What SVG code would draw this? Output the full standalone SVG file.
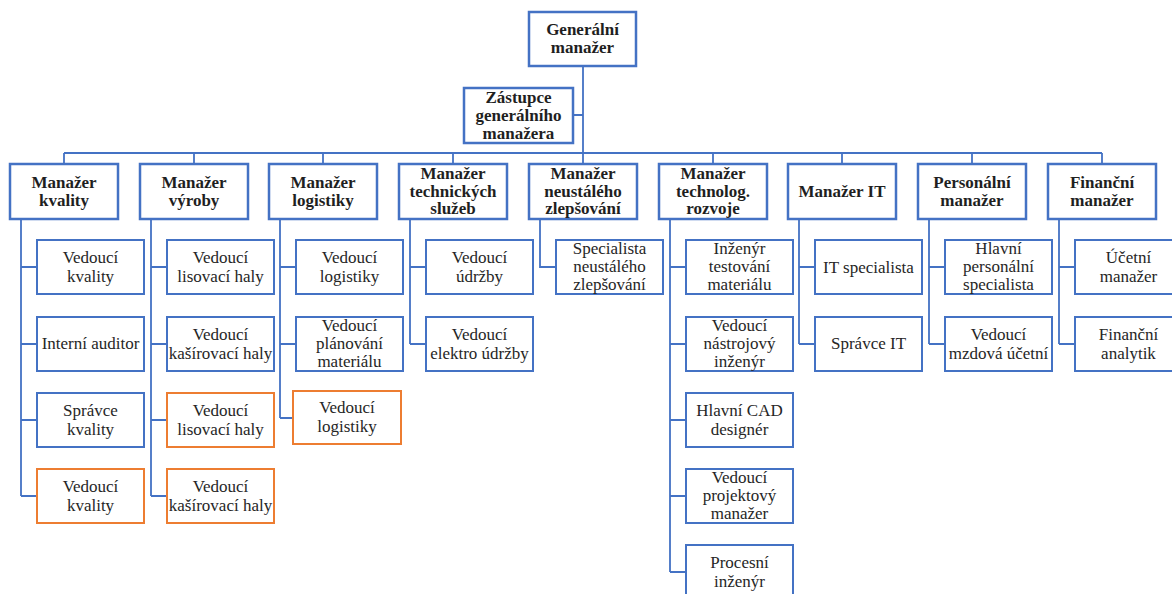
<svg xmlns="http://www.w3.org/2000/svg" width="1172" height="594" viewBox="0 0 1172 594">
<style>
.mg{fill:#fff;stroke:#4472C4;stroke-width:2.5}
.ch{fill:#fff;stroke:#4472C4;stroke-width:2}
.or{fill:#fff;stroke:#ED7D31;stroke-width:2}
.tb{font-family:"Liberation Serif","Times New Roman",serif;font-size:17px;font-weight:bold;fill:#1f1f1f;text-anchor:middle}
.t{font-family:"Liberation Serif","Times New Roman",serif;font-size:17px;fill:#262626;text-anchor:middle}
.ln{fill:none;stroke:#4472C4;stroke-width:1.8}
</style>
<rect width="1172" height="594" fill="#fff"/>
<g id="connectors" class="ln">
<path d="M583 66V153M573 115H583M64 153H1102"/>
<path d="M64 153V164M194 153V164M323 153V164M453 153V164M583 153V164M713 153V164M842 153V164M972 153V164M1102 153V164"/>
<path d="M21 219V496M21 267H37M21 344H37M21 420H37M21 496H37"/>
<path d="M151 219V496M151 267H167M151 344H167M151 420H167M151 496H167"/>
<path d="M280 219V418M280 267H296M280 344H296M280 418H293"/>
<path d="M410 219V344M410 267H426M410 344H426"/>
<path d="M540 219V267H556"/>
<path d="M670 219V572M670 267H686M670 344H686M670 420H686M670 496H686M670 572H686"/>
<path d="M799 219V344M799 267H815M799 344H815"/>
<path d="M929 219V344M929 267H945M929 344H945"/>
<path d="M1059 219V344M1059 267H1075M1059 344H1075"/>
</g>
<g id="n-gm"><rect class="mg" x="529" y="12" width="107" height="54"/><text class="tb" x="582.5" y="35">Generální</text><text class="tb" x="582.5" y="53">manažer</text></g>
<g id="n-zgm"><rect class="mg" x="464" y="88" width="109" height="55"/><text class="tb" x="518.5" y="103">Zástupce</text><text class="tb" x="518.5" y="121">generálního</text><text class="tb" x="518.5" y="139">manažera</text></g>
<g id="m1"><rect class="mg" x="10" y="164" width="108" height="55"/><text class="tb" x="64" y="188">Manažer</text><text class="tb" x="64" y="206">kvality</text></g>
<g id="m2"><rect class="mg" x="140" y="164" width="108" height="55"/><text class="tb" x="194" y="188">Manažer</text><text class="tb" x="194" y="206">výroby</text></g>
<g id="m3"><rect class="mg" x="269" y="164" width="108" height="55"/><text class="tb" x="323" y="188">Manažer</text><text class="tb" x="323" y="206">logistiky</text></g>
<g id="m4"><rect class="mg" x="399" y="164" width="108" height="55"/><text class="tb" x="453" y="179">Manažer</text><text class="tb" x="453" y="197">technických</text><text class="tb" x="453" y="214">služeb</text></g>
<g id="m5"><rect class="mg" x="529" y="164" width="108" height="55"/><text class="tb" x="583" y="179">Manažer</text><text class="tb" x="583" y="197">neustálého</text><text class="tb" x="583" y="214">zlepšování</text></g>
<g id="m6"><rect class="mg" x="659" y="164" width="108" height="55"/><text class="tb" x="713" y="179">Manažer</text><text class="tb" x="713" y="197">technolog.</text><text class="tb" x="713" y="214">rozvoje</text></g>
<g id="m7"><rect class="mg" x="788" y="164" width="108" height="55"/><text class="tb" x="842" y="197">Manažer IT</text></g>
<g id="m8"><rect class="mg" x="918" y="164" width="108" height="55"/><text class="tb" x="972" y="188">Personální</text><text class="tb" x="972" y="206">manažer</text></g>
<g id="m9"><rect class="mg" x="1048" y="164" width="108" height="55"/><text class="tb" x="1102" y="188">Finanční</text><text class="tb" x="1102" y="206">manažer</text></g>

<g id="c1-1"><rect class="ch" x="37" y="240" width="107" height="54"/><text class="t" x="90.5" y="263">Vedoucí</text><text class="t" x="90.5" y="282">kvality</text></g>
<g id="c1-2"><rect class="ch" x="37" y="317" width="107" height="54"/><text class="t" x="90.5" y="349">Interní auditor</text></g>
<g id="c1-3"><rect class="ch" x="37" y="393" width="107" height="54"/><text class="t" x="90.5" y="416">Správce</text><text class="t" x="90.5" y="435">kvality</text></g>
<g id="c1-4"><rect class="or" x="37" y="469" width="107" height="54"/><text class="t" x="90.5" y="492">Vedoucí</text><text class="t" x="90.5" y="511">kvality</text></g>

<g id="c2-1"><rect class="ch" x="167" y="240" width="107" height="54"/><text class="t" x="220.5" y="263">Vedoucí</text><text class="t" x="220.5" y="282">lisovací haly</text></g>
<g id="c2-2"><rect class="ch" x="167" y="317" width="107" height="54"/><text class="t" x="220.5" y="340">Vedoucí</text><text class="t" x="220.5" y="359">kašírovací haly</text></g>
<g id="c2-3"><rect class="or" x="167" y="393" width="107" height="54"/><text class="t" x="220.5" y="416">Vedoucí</text><text class="t" x="220.5" y="435">lisovací haly</text></g>
<g id="c2-4"><rect class="or" x="167" y="469" width="107" height="54"/><text class="t" x="220.5" y="492">Vedoucí</text><text class="t" x="220.5" y="511">kašírovací haly</text></g>

<g id="c3-1"><rect class="ch" x="296" y="240" width="107" height="54"/><text class="t" x="349.5" y="263">Vedoucí</text><text class="t" x="349.5" y="282">logistiky</text></g>
<g id="c3-2"><rect class="ch" x="296" y="317" width="107" height="54"/><text class="t" x="349.5" y="331">Vedoucí</text><text class="t" x="349.5" y="349">plánování</text><text class="t" x="349.5" y="367">materiálu</text></g>
<g id="c3-3"><rect class="or" x="293" y="391" width="108" height="53"/><text class="t" x="347" y="413">Vedoucí</text><text class="t" x="347" y="432">logistiky</text></g>

<g id="c4-1"><rect class="ch" x="426" y="240" width="107" height="54"/><text class="t" x="479.5" y="263">Vedoucí</text><text class="t" x="479.5" y="282">údržby</text></g>
<g id="c4-2"><rect class="ch" x="426" y="317" width="107" height="54"/><text class="t" x="479.5" y="340">Vedoucí</text><text class="t" x="479.5" y="359">elektro údržby</text></g>

<g id="c5-1"><rect class="ch" x="556" y="240" width="107" height="54"/><text class="t" x="609.5" y="254">Specialista</text><text class="t" x="609.5" y="272">neustálého</text><text class="t" x="609.5" y="290">zlepšování</text></g>

<g id="c6-1"><rect class="ch" x="686" y="240" width="107" height="54"/><text class="t" x="739.5" y="254">Inženýr</text><text class="t" x="739.5" y="272">testování</text><text class="t" x="739.5" y="290">materiálu</text></g>
<g id="c6-2"><rect class="ch" x="686" y="317" width="107" height="54"/><text class="t" x="739.5" y="331">Vedoucí</text><text class="t" x="739.5" y="349">nástrojový</text><text class="t" x="739.5" y="367">inženýr</text></g>
<g id="c6-3"><rect class="ch" x="686" y="393" width="107" height="54"/><text class="t" x="739.5" y="416">Hlavní CAD</text><text class="t" x="739.5" y="435">designér</text></g>
<g id="c6-4"><rect class="ch" x="686" y="469" width="107" height="54"/><text class="t" x="739.5" y="483">Vedoucí</text><text class="t" x="739.5" y="501">projektový</text><text class="t" x="739.5" y="519">manažer</text></g>
<g id="c6-5"><rect class="ch" x="686" y="545" width="107" height="54"/><text class="t" x="739.5" y="568">Procesní</text><text class="t" x="739.5" y="587">inženýr</text></g>

<g id="c7-1"><rect class="ch" x="815" y="240" width="107" height="54"/><text class="t" x="868.5" y="273">IT specialista</text></g>
<g id="c7-2"><rect class="ch" x="815" y="317" width="107" height="54"/><text class="t" x="868.5" y="349">Správce IT</text></g>

<g id="c8-1"><rect class="ch" x="945" y="240" width="107" height="54"/><text class="t" x="998.5" y="254">Hlavní</text><text class="t" x="998.5" y="272">personální</text><text class="t" x="998.5" y="290">specialista</text></g>
<g id="c8-2"><rect class="ch" x="945" y="317" width="107" height="54"/><text class="t" x="998.5" y="340">Vedoucí</text><text class="t" x="998.5" y="359">mzdová účetní</text></g>

<g id="c9-1"><rect class="ch" x="1075" y="240" width="107" height="54"/><text class="t" x="1128.5" y="263">Účetní</text><text class="t" x="1128.5" y="282">manažer</text></g>
<g id="c9-2"><rect class="ch" x="1075" y="317" width="107" height="54"/><text class="t" x="1128.5" y="340">Finanční</text><text class="t" x="1128.5" y="359">analytik</text></g>
</svg>
